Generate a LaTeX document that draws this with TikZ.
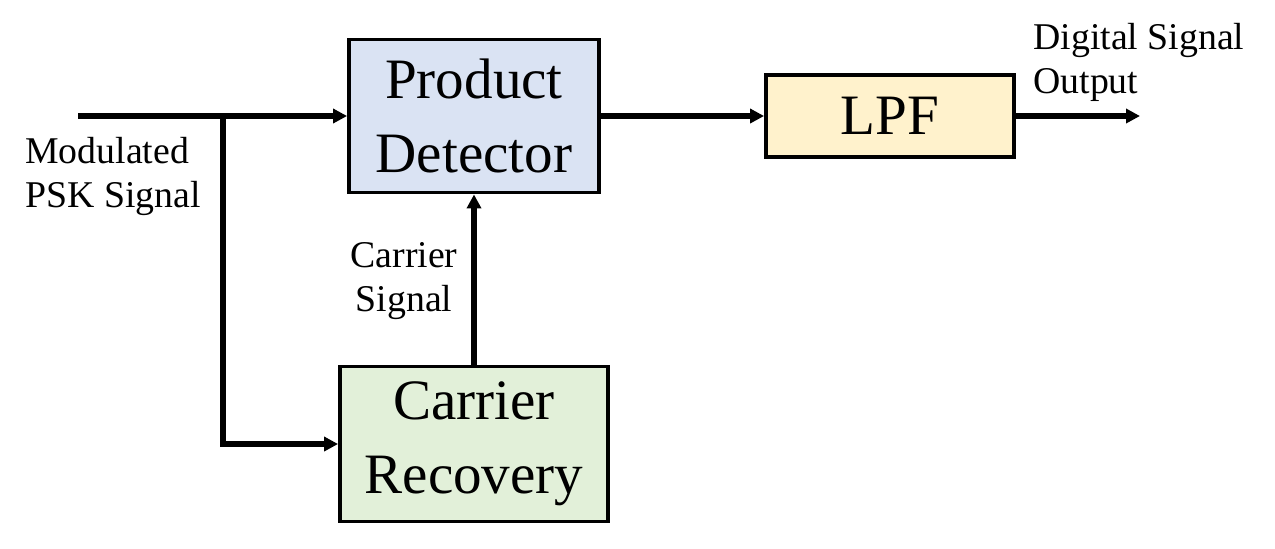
\documentclass[tikz,border=0pt]{standalone}
\usepackage{fontspec}
\setmainfont{Liberation Serif}
\usetikzlibrary{arrows.meta}
\definecolor{pdblue}{HTML}{DAE3F3}
\definecolor{lpfyellow}{HTML}{FFF2CC}
\definecolor{crgreen}{HTML}{E2F0D9}
\begin{document}
\begin{tikzpicture}[
	>={Triangle[length=0.28cm,width=0.28cm]},
	block/.style={draw, line width=2.2pt, inner sep=0pt, align=center, font=\fontsize{32.5}{42}\selectfont},
	lbl/.style={inner sep=0pt, font=\fontsize{21.5}{25.5}\selectfont},
	conn/.style={line width=2.9pt}
	]
		\useasboundingbox (0,0) rectangle (25.5,-10.96);
		
		\node[block, fill=pdblue, minimum width=5.0cm, minimum height=3.06cm] (PD) at (9.48,-2.32) {Product\\Detector};
		\node[block, fill=lpfyellow, minimum width=4.96cm, minimum height=1.64cm] (LPF) at (17.8,-2.32) {LPF};
		\node[block, fill=crgreen, minimum width=5.36cm, minimum height=3.1cm] (CR) at (9.48,-8.88) {Carrier\\Recovery};
		
		\coordinate (in) at (1.56,-2.32);
		\coordinate (br) at (4.46,-2.32);
		\coordinate (out) at (22.8,-2.32);
		
		\node[lbl, anchor=west, align=left] (mod) at (0.5,-3.53) {Modulated\\PSK Signal};
		\node[lbl, align=center] (car) at (8.08,-5.62) {Carrier\\Signal};
		\node[lbl, anchor=west, align=left] (dig) at (20.66,-1.25) {Digital Signal\\Output};
		
		\draw[conn,->] (in) -- (PD);
		\draw[conn,->] (br) |- (CR);
		\draw[conn,->] (CR) -- (PD);
		\draw[conn,->] (PD) -- (LPF);
		\draw[conn,->] (LPF) -- (out);
		\end{tikzpicture}
\end{document}
